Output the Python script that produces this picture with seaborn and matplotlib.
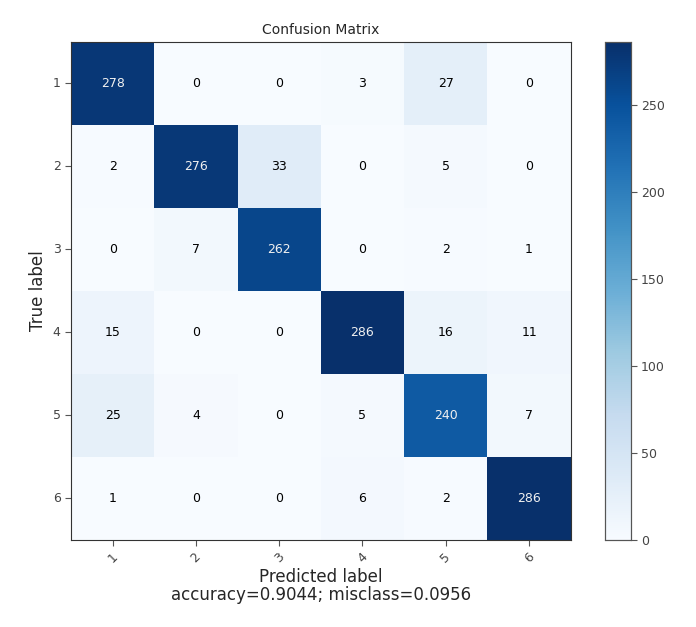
import numpy as np
import pandas as pd
import matplotlib
matplotlib.use('Agg')
import matplotlib.pyplot as plt
import seaborn as sns

# confusion matrix values
class_labels = ['1', '2', '3', '4', '5', '6']
row_1 = [278, 0, 0, 3, 27, 0]
row_2 = [2, 276, 33, 0, 5, 0]
row_3 = [0, 7, 262, 0, 2, 1]
row_4 = [15, 0, 0, 286, 16, 11]
row_5 = [25, 4, 0, 5, 240, 7]
row_6 = [1, 0, 0, 6, 2, 286]
accuracy = 0.9044
misclass = 0.0956

cm = pd.DataFrame([row_1, row_2, row_3, row_4, row_5, row_6],
                  index=class_labels, columns=class_labels)

sns.set_style('white')
plt.rcParams['font.family'] = ['DejaVu Sans']

fig = plt.figure(figsize=(6.96, 6.27), dpi=100)
ax = fig.add_axes([0.102, 0.139, 0.718, 0.794])
cax = fig.add_axes([0.869, 0.139, 0.037, 0.794])

sns.heatmap(cm, cmap='Blues', vmin=0, annot=False, cbar=True, cbar_ax=cax,
            square=False, ax=ax)

# annotations, white on dark cells
thresh = cm.values.max() / 2
for i in range(cm.shape[0]):
    for j in range(cm.shape[1]):
        val = cm.values[i, j]
        ax.text(j + 0.5, i + 0.5, str(val), ha='center', va='center',
                fontsize=9, color='#f0f0f0' if val > thresh else 'black')

for s in ax.spines.values():
    s.set_visible(True)
    s.set_color('#333333')
    s.set_linewidth(0.8)

ax.set_title('Confusion Matrix', fontsize=10)
ax.set_xlabel(f'Predicted label\naccuracy={accuracy:0.4f}; misclass={misclass:0.4f}',
              fontsize=12, color='#262626', linespacing=1.0, labelpad=2)
ax.set_ylabel('True label', fontsize=12, color='#262626')
ax.set_xticklabels(class_labels, rotation=45, fontsize=9, color='#444444')
ax.set_yticklabels(class_labels, rotation=0, fontsize=9, color='#444444')
ax.tick_params(axis='both', length=4, width=0.8, color='#555555', bottom=True, left=True)

cax.tick_params(labelsize=9, labelcolor='#444444', length=4, width=0.8, color='#555555')
for s in cax.spines.values():
    s.set_visible(True)
    s.set_color('#555555')
    s.set_linewidth(0.8)

fig.savefig('out.png', dpi=100)
